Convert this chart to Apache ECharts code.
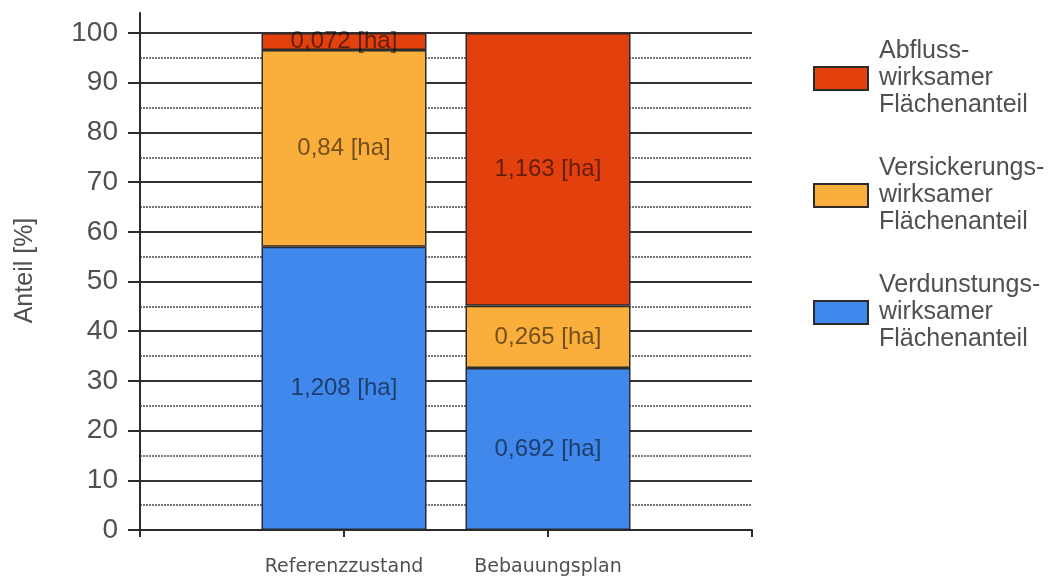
<!DOCTYPE html>
<html>
<head>
<meta charset="utf-8">
<script src="https://cdn.jsdelivr.net/npm/echarts@6/dist/echarts.min.js"></script>
<style>
html,body{margin:0;padding:0;background:#fff;}
#chart{width:1060px;height:578px;}
</style>
</head>
<body>
<div id="chart"></div>
<script>
const categories = ['Referenzzustand', 'Bebauungsplan'];
const seriesNames = [
  'Abfluss-\nwirksamer\nFlächenanteil',
  'Versickerungs-\nwirksamer\nFlächenanteil',
  'Verdunstungs-\nwirksamer\nFlächenanteil'
];
// share of area in percent
const verdunstungPct = [57.0, 32.6];
const versickerungPct = [39.6, 12.5];
const abflussPct = [3.4, 54.9];
// area labels in hectares
const verdunstungHa = [1.208, 0.692];
const versickerungHa = [0.84, 0.265];
const abflussHa = [0.072, 1.163];
const yTicks = [0, 10, 20, 30, 40, 50, 60, 70, 80, 90, 100];

const colors = { abfluss: '#E2400C', versickerung: '#FAAE3B', verdunstung: '#4088EC' };

const axisCats = [''].concat(categories, ['']);
function pad(arr) { return [null].concat(arr, [null]); }
function haLabel(arr) {
  return function (p) {
    const v = arr[p.dataIndex - 1];
    return String(v).replace('.', ',') + ' [ha]';
  };
}
function mkSeries(name, pct, ha, color) {
  return {
    name: name,
    type: 'bar',
    stack: 'total',
    barWidth: 165,
    data: pad(pct),
    itemStyle: { color: color, borderColor: '#2b2b2b', borderWidth: 1.5 },
    label: {
      show: true,
      position: 'inside',
      formatter: haLabel(ha),
      fontFamily: 'Liberation Sans, Arial, sans-serif',
      fontSize: 24,
      color: 'rgba(0,0,0,0.55)'
    },
    emphasis: { disabled: true }
  };
}

const chart = echarts.init(document.getElementById('chart'), null, { renderer: 'canvas' });
const option = {
  animation: false,
  backgroundColor: '#fff',
  grid: { left: 140, right: 308, top: 33, bottom: 48, containLabel: false, outerBoundsMode: 'none' },
  legend: {
    orient: 'vertical',
    left: 813,
    top: 38,
    padding: 0,
    itemGap: 36,
    itemWidth: 54,
    itemHeight: 23,
    icon: 'rect',
    data: seriesNames,
    selectedMode: false,
    textStyle: {
      fontFamily: 'Liberation Sans, Arial, sans-serif',
      fontSize: 25,
      lineHeight: 27,
      color: '#505050',
      padding: [0, 0, 0, 6]
    }
  },
  xAxis: {
    type: 'category',
    data: axisCats,
    boundaryGap: false,
    axisLine: { lineStyle: { color: '#2b2b2b', width: 2 } },
    axisTick: { show: true, interval: 0, length: 7, lineStyle: { color: '#2b2b2b', width: 2 } },
    axisLabel: {
      interval: 0,
      margin: 28,
      fontFamily: 'DejaVu Sans, sans-serif',
      fontSize: 19,
      color: '#505050'
    },
    splitLine: { show: false }
  },
  yAxis: {
    type: 'value',
    min: yTicks[0],
    max: yTicks[yTicks.length - 1],
    interval: 10,
    name: 'Anteil [%]',
    nameLocation: 'middle',
    nameGap: 102,
    nameTextStyle: {
      fontFamily: 'Liberation Sans, Arial, sans-serif',
      fontSize: 25,
      color: '#505050',
      padding: [0, 0, 0, 22]
    },
    axisLine: { show: true, lineStyle: { color: '#2b2b2b', width: 2 } },
    axisTick: { show: true, length: 12, lineStyle: { color: '#2b2b2b', width: 2 } },
    axisLabel: {
      margin: 22,
      fontFamily: 'Liberation Sans, Arial, sans-serif',
      fontSize: 28,
      color: '#505050'
    },
    splitLine: { show: true, lineStyle: { color: '#333', width: 2 } },
    minorTick: { show: false, splitNumber: 2 },
    minorSplitLine: { show: true, lineStyle: { color: '#777', width: 2, type: [2, 1] } }
  },
  series: [
    mkSeries(seriesNames[2], verdunstungPct, verdunstungHa, colors.verdunstung),
    mkSeries(seriesNames[1], versickerungPct, versickerungHa, colors.versickerung),
    mkSeries(seriesNames[0], abflussPct, abflussHa, colors.abfluss)
  ]
};
chart.setOption(option);

// extend y axis line above the top of the plot, like the reference
const x0 = chart.convertToPixel({ xAxisIndex: 0 }, 0);
const yTop = chart.convertToPixel({ yAxisIndex: 0 }, yTicks[yTicks.length - 1]);
const yUnit = chart.convertToPixel({ yAxisIndex: 0 }, 0) - chart.convertToPixel({ yAxisIndex: 0 }, 1);
chart.setOption({
  graphic: [{
    type: 'line',
    shape: { x1: x0, y1: yTop - 4.2 * yUnit, x2: x0, y2: yTop },
    style: { stroke: '#2b2b2b', lineWidth: 2 },
    silent: true
  }]
});
</script>
</body>
</html>
